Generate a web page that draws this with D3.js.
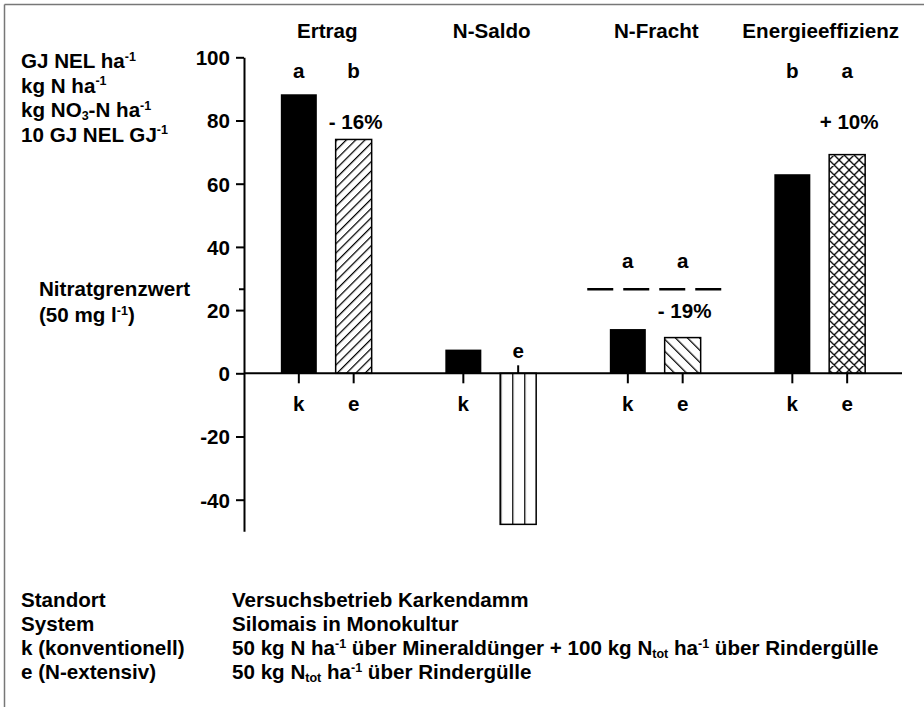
<!DOCTYPE html>
<html>
<head>
<meta charset="utf-8">
<script src="https://cdn.jsdelivr.net/npm/d3@7"></script>
<style>
  html, body { margin: 0; padding: 0; background: #fff; }
  svg text { font-family: "Liberation Sans", Arial, Helvetica, sans-serif; font-weight: bold; fill: #000; }
</style>
</head>
<body>
<svg id="chart" width="924" height="707"></svg>
<script>
// Parameters per indicator (k = konventionell, e = N-extensiv)
const groups = ["Ertrag", "N-Saldo", "N-Fracht", "Energieeffizienz"];
const systems = ["k", "e"];
const valuesK = [88.3, 7.5, 14.0, 63.0];
const valuesE = [74.0, -47.8, 11.3, 69.2];
const lettersK = ["a", "", "a", "b"];
const lettersE = ["b", "", "a", "a"];
const changeE = ["- 16%", "", "- 19%", "+ 10%"];
const patternsE = ["diag", "vert", "back", "cross"];
const yTicks = [-40, -20, 0, 20, 40, 60, 80, 100];
const yDomain = [-50, 100];
const nitrateLimit = 26.6;
const limitGroup = "N-Fracht";

// Unit lines next to the y axis; segments: [text, mode] with mode "", "sup", "sub"
const unitLines = [
  [["GJ NEL ha", ""], ["-1", "sup"]],
  [["kg N ha", ""], ["-1", "sup"]],
  [["kg NO", ""], ["3", "sub"], ["-N ha", ""], ["-1", "sup"]],
  [["10 GJ NEL GJ", ""], ["-1", "sup"]]
];
const limitLabel = [
  [["Nitratgrenzwert", ""]],
  [["(50 mg l", ""], ["-1", "sup"], [")", ""]]
];
const noteKeys = ["Standort", "System", "k (konventionell)", "e (N-extensiv)"];
const noteTexts = [
  [["Versuchsbetrieb Karkendamm", ""]],
  [["Silomais in Monokultur", ""]],
  [["50 kg N ha", ""], ["-1", "sup"], [" über Mineraldünger + 100 kg N", ""], ["tot", "sub"], [" ha", ""], ["-1", "sup"], [" über Rindergülle", ""]],
  [["50 kg N", ""], ["tot", "sub"], [" ha", ""], ["-1", "sup"], [" über Rindergülle", ""]]
];

const svg = d3.select("#chart");
const FS = 20.6;
const SS = 12.5;

// frame
svg.append("line").attr("x1", 4.5).attr("y1", 4.5).attr("x2", 924).attr("y2", 4.5)
  .attr("stroke", "#777").attr("stroke-width", 1.5);
svg.append("line").attr("x1", 4.5).attr("y1", 4.5).attr("x2", 4.5).attr("y2", 707)
  .attr("stroke", "#777").attr("stroke-width", 1.5);

// scales
const x0 = d3.scaleBand().domain(groups).range([244, 902]).padding(0);
const x1 = d3.scalePoint().domain(systems).range([0, x0.bandwidth()]).padding(1);
const barW = 36;
const y = d3.scaleLinear().domain(yDomain).range([531.3, 57.3]);

// rich text helper
function richText(sel, x, yy, segs, anchor) {
  const t = sel.append("text").attr("x", x).attr("y", yy)
    .attr("font-size", FS).attr("text-anchor", anchor || "start");
  let shift = 0;
  segs.forEach(([s, mode]) => {
    let target = 0, size = FS;
    if (mode === "sup") { target = -7.5; size = SS; }
    if (mode === "sub") { target = 3; size = SS; }
    t.append("tspan").attr("dy", target - shift).attr("font-size", size).text(s);
    shift = target;
  });
  return t;
}

// patterns
const defs = svg.append("defs");
const bars = [];
groups.forEach((g, i) => {
  systems.forEach(s => {
    const v = s === "k" ? valuesK[i] : valuesE[i];
    bars.push({
      group: g, sys: s, value: v, gi: i,
      cx: x0(g) + x1(s),
      letter: s === "k" ? lettersK[i] : lettersE[i],
      pattern: s === "k" ? null : patternsE[i]
    });
  });
});

bars.filter(b => b.pattern).forEach(b => {
  const id = "pat-" + b.gi;
  const left = b.cx - barW / 2;
  let p;
  if (b.pattern === "diag" || b.pattern === "back") {
    const sp = b.pattern === "diag" ? 6.6 : 8.5;
    p = defs.append("pattern").attr("id", id).attr("patternUnits", "userSpaceOnUse")
      .attr("width", sp).attr("height", sp)
      .attr("patternTransform", `rotate(${b.pattern === "diag" ? 45 : -45})`);
    p.append("rect").attr("width", sp).attr("height", sp).attr("fill", "#fff");
    p.append("line").attr("x1", 0.6).attr("y1", -1).attr("x2", 0.6).attr("y2", sp + 1)
      .attr("stroke", "#000").attr("stroke-width", 1.3);
  } else if (b.pattern === "vert") {
    const sp = barW / 3;
    p = defs.append("pattern").attr("id", id).attr("patternUnits", "userSpaceOnUse")
      .attr("x", left).attr("width", sp).attr("height", 20);
    p.append("rect").attr("width", sp).attr("height", 20).attr("fill", "#fff");
    p.append("line").attr("x1", 0.6).attr("y1", 0).attr("x2", 0.6).attr("y2", 20)
      .attr("stroke", "#000").attr("stroke-width", 1.3);
  } else {
    const sp = 10;
    p = defs.append("pattern").attr("id", id).attr("patternUnits", "userSpaceOnUse")
      .attr("x", left).attr("width", sp).attr("height", sp);
    p.append("rect").attr("width", sp).attr("height", sp).attr("fill", "#fff");
    p.append("path").attr("d", `M0,0L${sp},${sp}M${sp},0L0,${sp}M-1,1L1,-1M${sp - 1},${sp + 1}L${sp + 1},${sp - 1}M-1,${sp - 1}L1,${sp + 1}M${sp - 1},-1L${sp + 1},1`)
      .attr("stroke", "#000").attr("stroke-width", 1.3);
  }
  b.fill = `url(#${id})`;
});

// y axis
const yAxis = d3.axisLeft(y).tickValues(yTicks).tickFormat(d => String(d))
  .tickSize(8).tickSizeOuter(0).tickPadding(6);
const gy = svg.append("g").attr("transform", "translate(244,0)").call(yAxis);
gy.attr("font-family", null).attr("font-size", null);
gy.select(".domain").attr("stroke", "#000").attr("stroke-width", 2);
gy.selectAll(".tick line").attr("stroke", "#000").attr("stroke-width", 2);
gy.selectAll(".tick text").attr("font-size", FS).attr("dy", "0.36em");
// marker for the nitrate limit
svg.append("line").attr("x1", 239).attr("x2", 244)
  .attr("y1", y(nitrateLimit)).attr("y2", y(nitrateLimit))
  .attr("stroke", "#000").attr("stroke-width", 2);

// bars
svg.append("g").selectAll("rect").data(bars).join("rect")
  .attr("x", d => d.cx - barW / 2)
  .attr("width", barW)
  .attr("y", d => y(Math.max(0, d.value)))
  .attr("height", d => Math.abs(y(d.value) - y(0)))
  .attr("fill", d => d.sys === "k" ? "#000" : d.fill)
  .attr("stroke", "#000")
  .attr("stroke-width", d => d.sys === "k" ? 0 : 1.5);

// zero line
svg.append("line").attr("x1", x0.range()[0]).attr("x2", x0.range()[1])
  .attr("y1", y(0)).attr("y2", y(0)).attr("stroke", "#000").attr("stroke-width", 2);

// category ticks and k/e labels
bars.forEach(b => {
  const neg = b.value < 0;
  svg.append("line").attr("x1", b.cx).attr("x2", b.cx)
    .attr("y1", y(0)).attr("y2", neg ? y(0) - 8 : y(0) + 10)
    .attr("stroke", "#000").attr("stroke-width", 2);
  svg.append("text").attr("x", b.cx).attr("y", neg ? y(0) - 15 : y(0) + 38)
    .attr("text-anchor", "middle").attr("font-size", FS).text(b.sys);
});

// group titles
groups.forEach(g => {
  svg.append("text").attr("x", x0(g) + x0.bandwidth() / 2 + 1).attr("y", 38)
    .attr("text-anchor", "middle").attr("font-size", FS).text(g);
});

// significance letters and relative change
bars.forEach(b => {
  const atLimit = b.group === limitGroup;
  if (b.letter) {
    svg.append("text").attr("x", b.cx).attr("y", atLimit ? y(nitrateLimit) - 21 : 78)
      .attr("text-anchor", "middle").attr("font-size", FS).text(b.letter);
  }
  if (b.sys === "e" && changeE[b.gi]) {
    svg.append("text").attr("x", b.cx + 2).attr("y", atLimit ? y(nitrateLimit) + 29 : 129)
      .attr("text-anchor", "middle").attr("font-size", FS).text(changeE[b.gi]);
  }
});

// nitrate limit line
const lg = x0(limitGroup) + x0.bandwidth() / 2;
svg.append("line").attr("x1", lg - 68).attr("x2", lg + 68)
  .attr("y1", y(nitrateLimit)).attr("y2", y(nitrateLimit))
  .attr("stroke", "#000").attr("stroke-width", 2.5).attr("stroke-dasharray", "26,10");

// unit labels
unitLines.forEach((segs, i) => richText(svg, 21, 68 + i * 24.5, segs));
limitLabel.forEach((segs, i) => richText(svg, 39, 296 + i * 26, segs));

// notes
noteKeys.forEach((k, i) => {
  richText(svg, 21, 607 + i * 24, [[k, ""]]);
  richText(svg, 232, 607 + i * 24, noteTexts[i]);
});
</script>
</body>
</html>
